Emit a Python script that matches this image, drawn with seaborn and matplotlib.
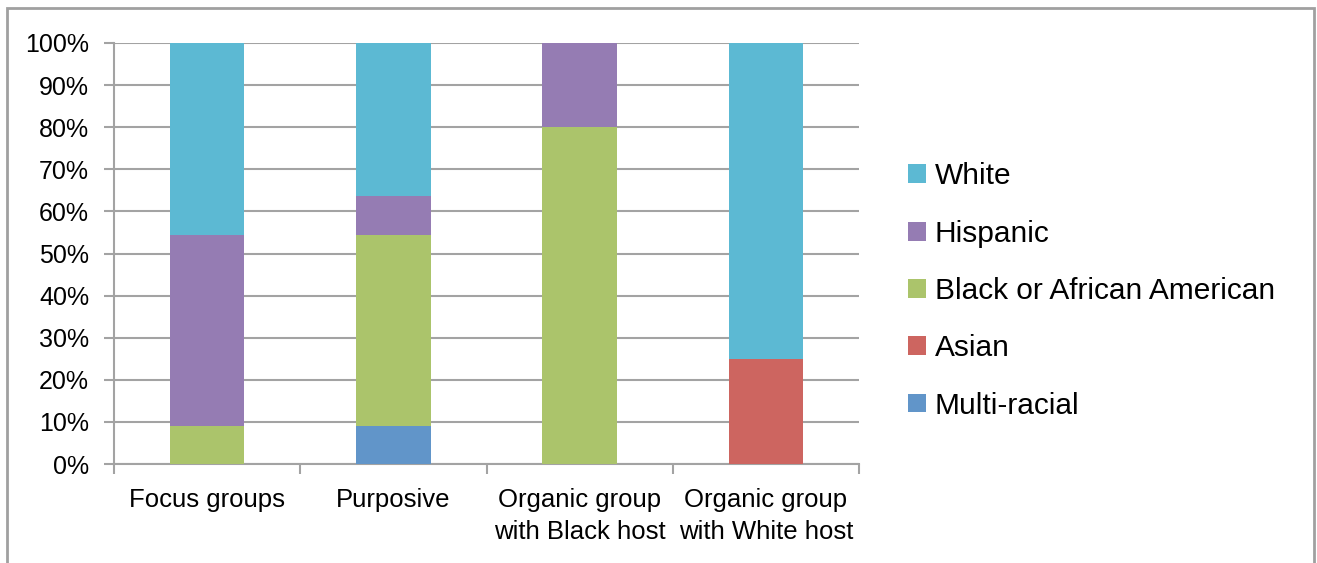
import matplotlib
matplotlib.use("Agg")
import matplotlib.pyplot as plt
from matplotlib.patches import Patch, Rectangle
from matplotlib.ticker import FixedLocator, PercentFormatter
import numpy as np
import pandas as pd
import seaborn as sns

# Participant race/ethnicity by recruitment method (percent of each group)
categories = ["Focus groups", "Purposive", "Organic group\nwith Black host", "Organic group\nwith White host"]
multi_racial = [0.0, 9.1, 0.0, 0.0]
asian = [0.0, 0.0, 0.0, 25.0]
black = [9.1, 45.4, 80.0, 0.0]
hispanic = [45.4, 9.1, 20.0, 0.0]
white = [45.5, 36.4, 0.0, 75.0]

# stacking order, bottom to top
series = [
    ("Multi-racial", multi_racial, "#6195C9"),
    ("Asian", asian, "#CD6560"),
    ("Black or African American", black, "#ABC46B"),
    ("Hispanic", hispanic, "#957CB3"),
    ("White", white, "#5CB9D3"),
]

sns.set_theme(style="white")
plt.rcParams["font.family"] = ["Liberation Sans", "DejaVu Sans"]
plt.rcParams["text.color"] = "black"

fig = plt.figure(figsize=(13.17, 5.63), dpi=100)
ax = fig.add_axes([114 / 1317, 1 - 464 / 563, (859 - 114) / 1317, (464 - 43) / 563])

# cumulative tops, drawn tallest first so each lower segment overlays the one above
tops = np.cumsum(np.array([s[1] for s in series]), axis=0)
for (name, _, color), top in reversed(list(zip(series, tops))):
    df = pd.DataFrame({"group": categories, "value": top})
    sns.barplot(data=df, x="group", y="value", color=color, width=0.4,
                saturation=1, linewidth=0, ax=ax, zorder=3)

grid_c = "#A3A3A3"
ax.set_xlim(-0.5, len(categories) - 0.5)
ax.set_ylim(0, 100)
ax.set_yticks(np.arange(0, 101, 10))
ax.yaxis.set_major_formatter(PercentFormatter(decimals=0))
ax.yaxis.grid(True, color=grid_c, linewidth=1.5)
ax.set_axisbelow(True)
ax.set_xlabel("")
ax.set_ylabel("")

for side in ["top", "right"]:
    ax.spines[side].set_visible(False)
for side in ["left", "bottom"]:
    ax.spines[side].set_color(grid_c)
    ax.spines[side].set_linewidth(1.5)

ax.xaxis.set_minor_locator(FixedLocator(np.arange(-0.5, len(categories), 1.0)))
ax.tick_params(axis="x", which="major", length=0, pad=17, labelsize=18.5, labelcolor="black")
ax.tick_params(axis="x", which="minor", direction="out", length=7, width=1.5, color=grid_c, bottom=True)
ax.tick_params(axis="y", which="major", direction="out", length=7, width=1.5, color=grid_c,
               left=True, pad=11, labelsize=18, labelcolor="black")
for lbl in ax.get_xticklabels():
    lbl.set_linespacing(1.42)

handles = [Patch(facecolor=c, edgecolor="none", label=n) for n, _, c in reversed(series)]
leg = fig.legend(handles=handles, loc="center left", bbox_to_anchor=(908 / 1317, 1 - 291 / 563),
                 frameon=False, fontsize=21.5, handlelength=0.6, handleheight=0.6,
                 handletextpad=0.3, labelspacing=0.98, borderpad=0, borderaxespad=0)
for t in leg.get_texts():
    t.set_color("black")

# outer chart border
fig.patches.append(Rectangle((7 / 1317, -0.1), (1314 - 7) / 1317, 1.1 - 8 / 563,
                             transform=fig.transFigure, fill=False, edgecolor="#A0A0A0",
                             linewidth=2, clip_on=False))

fig.savefig("out.png", dpi=100)
